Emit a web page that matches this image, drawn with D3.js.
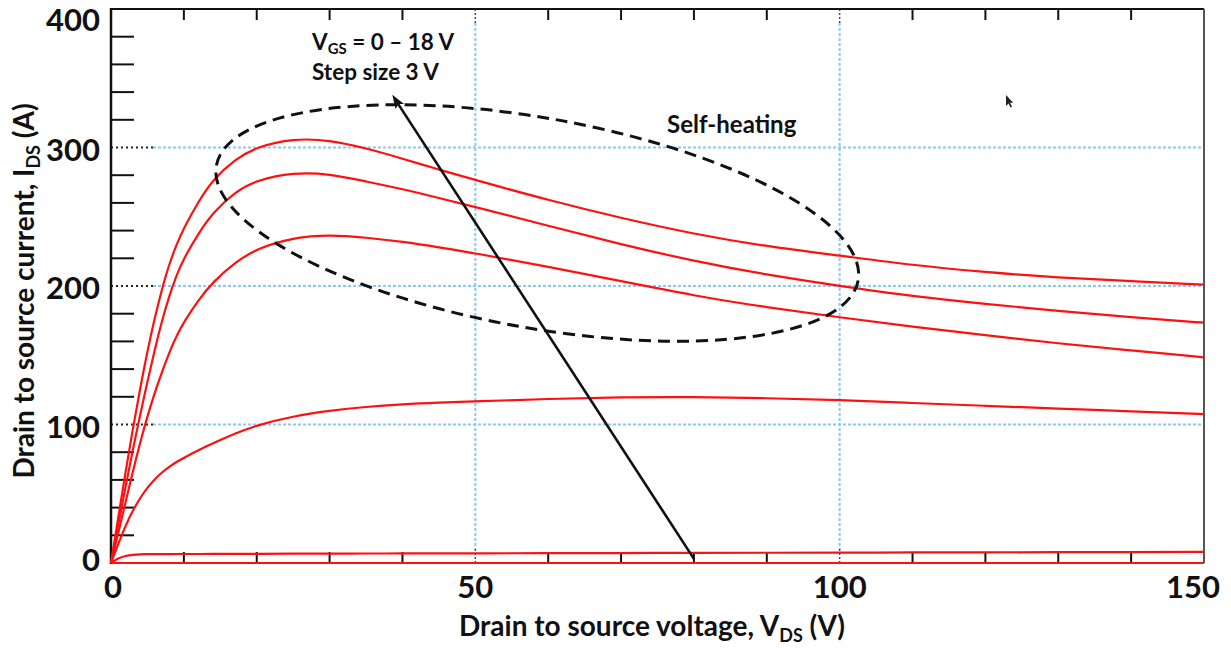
<!DOCTYPE html>
<html>
<head>
<meta charset="utf-8">
<script src="https://cdn.jsdelivr.net/npm/d3@7"></script>
<style>
  html, body { margin: 0; padding: 0; background: #fff; }
  svg { display: block; }
  text { font-family: Lato, "Open Sans", sans-serif; font-weight: 700; fill: #111; }
</style>
</head>
<body>
<svg id="chart" width="1231" height="649"></svg>
<script>
// Drain-source voltage sample points (V)
const vds = [0, 1, 2, 3, 4, 5, 6, 7, 8, 9, 10, 12, 14, 17, 20, 25, 30, 35, 40, 45,
             50, 60, 70, 80, 90, 100, 110, 120, 130, 140, 150];

// Drain current (A) for each gate voltage step
const ids18 = [0, 33, 66, 97, 126, 153, 177, 198, 216, 230, 242, 261, 277, 291.5, 300.5, 306.5, 305.5, 299.5, 292, 284,
               276.5, 262, 249, 237.5, 228.5, 222, 215, 210, 206, 203.5, 201];
const ids15 = [0, 28, 55, 82, 107, 131, 154, 175, 193, 208, 220, 238, 253, 268, 276.5, 282, 281, 275.5, 270, 263.5,
               257, 243.5, 230, 218, 208, 200, 192.5, 187, 182, 177.5, 173.5];
const ids12 = [0, 22, 44, 66, 87, 106, 123, 138, 152, 164, 174, 190, 203, 217, 227, 235, 237, 235, 232, 228,
               223.6, 214, 203.5, 193, 184.5, 177.4, 170.5, 164.5, 158.5, 153.5, 148.5];
const ids9  = [0, 14, 27, 38, 47, 54.5, 60.5, 65.5, 69.5, 73, 76, 81.5, 86.5, 93.5, 99.5, 106, 110, 112.8, 114.6, 115.8,
               116.7, 118.5, 119.7, 120, 119, 117.7, 115.5, 113.5, 111.5, 109.5, 107.5];
const ids6  = [0, 3.5, 5.2, 6, 6.3, 6.4, 6.4, 6.45, 6.45, 6.5, 6.5, 6.5, 6.55, 6.6, 6.6, 6.7, 6.8, 6.85, 6.9, 6.95,
               7, 7.1, 7.2, 7.3, 7.4, 7.5, 7.6, 7.7, 7.8, 7.9, 8];
const ids3  = vds.map(() => 0);
const ids0  = vds.map(() => 0);

const vgsSteps = [0, 3, 6, 9, 12, 15, 18];
const idsSeries = [ids0, ids3, ids6, ids9, ids12, ids15, ids18];

// Axis ticks
const xMajorTicks = [0, 50, 100, 150];
const xMinorTicks = [10, 20, 30, 40, 60, 70, 80, 90, 110, 120, 130, 140];
const yMajorTicks = [0, 100, 200, 300, 400];
const yMinorTicks = [20, 40, 60, 80, 120, 140, 160, 180, 220, 240, 260, 280, 320, 340, 360, 380];
const gridX = [50, 100];
const gridY = [100, 200, 300];

// Annotations (data coordinates)
const arrowFrom = [80, 3];
const arrowTo = [38.6, 338];
const ellipseCenter = [58.5, 245.5];
const selfHeatingLabel = "Self-heating";
const stepLabel = "Step size 3 V";

const svg = d3.select("#chart");
const x = d3.scaleLinear().domain([0, 150]).range([111, 1204]);
const y = d3.scaleLinear().domain([0, 400]).range([563, 9]);

svg.append("rect").attr("width", 1231).attr("height", 649).attr("fill", "#fff");

// Grid lines: light blue dotted, with a black dotted stub at the axis ends
const gridBlue = "#86c9f4";
const g = svg.append("g");
gridY.forEach(v => {
  g.append("line").attr("x1", x(0) + 42).attr("x2", x(150)).attr("y1", y(v)).attr("y2", y(v))
    .attr("stroke", gridBlue).attr("stroke-width", 2).attr("stroke-dasharray", "3,2");
  g.append("line").attr("x1", x(0)).attr("x2", x(0) + 42).attr("y1", y(v)).attr("y2", y(v))
    .attr("stroke", "#222").attr("stroke-width", 2).attr("stroke-dasharray", "2,3");
});
gridX.forEach(v => {
  g.append("line").attr("x1", x(v)).attr("x2", x(v)).attr("y1", y(400) + 14).attr("y2", y(0) - 14)
    .attr("stroke", gridBlue).attr("stroke-width", 2).attr("stroke-dasharray", "3,2");
  [[y(400), y(400) + 14], [y(0) - 14, y(0)]].forEach(([a, b]) => {
    g.append("line").attr("x1", x(v)).attr("x2", x(v)).attr("y1", a).attr("y2", b)
      .attr("stroke", "#446").attr("stroke-width", 1.5).attr("stroke-dasharray", "2,2");
  });
});

// Minor ticks (inward)
const t = svg.append("g").attr("stroke", "#111").attr("stroke-width", 2);
yMinorTicks.forEach(v => {
  t.append("line").attr("x1", x(0)).attr("x2", x(0) + 23).attr("y1", y(v)).attr("y2", y(v));
});
xMinorTicks.forEach(v => {
  t.append("line").attr("x1", x(v)).attr("x2", x(v)).attr("y1", y(400)).attr("y2", y(400) + 11);
  t.append("line").attr("x1", x(v)).attr("x2", x(v)).attr("y1", y(0)).attr("y2", y(0) - 11);
});

// Frame
svg.append("line").attr("x1", x(0)).attr("x2", x(150)).attr("y1", y(400)).attr("y2", y(400))
  .attr("stroke", "#111").attr("stroke-width", 2);
svg.append("line").attr("x1", x(150)).attr("x2", x(150)).attr("y1", y(400)).attr("y2", y(0))
  .attr("stroke", "#555").attr("stroke-width", 2);
svg.append("line").attr("x1", x(0)).attr("x2", x(150)).attr("y1", y(0)).attr("y2", y(0))
  .attr("stroke", "#111").attr("stroke-width", 2);
svg.append("line").attr("x1", x(0)).attr("x2", x(0)).attr("y1", y(400) - 1).attr("y2", y(0) + 1)
  .attr("stroke", "#111").attr("stroke-width", 2.5);

// Output characteristic curves
const line = d3.line()
  .x((d, i) => x(vds[i]))
  .y(d => y(d))
  .curve(d3.curveBasis);

svg.append("g").selectAll("path")
  .data(idsSeries)
  .join("path")
  .attr("d", d => line(d))
  .attr("fill", "none")
  .attr("stroke", "#ff1010")
  .attr("stroke-width", 2.2);

// Self-heating region (dashed ellipse)
const [ecx, ecy] = [x(ellipseCenter[0]), y(ellipseCenter[1])];
svg.append("ellipse")
  .attr("cx", 0).attr("cy", 0).attr("rx", 326).attr("ry", 105)
  .attr("transform", `translate(${ecx},${ecy}) rotate(10.15)`)
  .attr("fill", "none").attr("stroke", "#111").attr("stroke-width", 3)
  .attr("stroke-dasharray", "12,7");

// Gate-voltage arrow
const ax0 = x(arrowFrom[0]), ay0 = y(arrowFrom[1]);
const ax1 = x(arrowTo[0]), ay1 = y(arrowTo[1]);
const ang = Math.atan2(ay1 - ay0, ax1 - ax0);
const headLen = 14, headW = 5;
const bx = ax1 - headLen * Math.cos(ang), by = ay1 - headLen * Math.sin(ang);
svg.append("line").attr("x1", ax0).attr("y1", ay0).attr("x2", bx + 3 * Math.cos(ang)).attr("y2", by + 3 * Math.sin(ang))
  .attr("stroke", "#111").attr("stroke-width", 2.6);
const px = -Math.sin(ang), py = Math.cos(ang);
svg.append("path")
  .attr("d", `M${ax1},${ay1} L${bx + headW * px},${by + headW * py} L${bx + 3 * Math.cos(ang)},${by + 3 * Math.sin(ang)} L${bx - headW * px},${by - headW * py} Z`)
  .attr("fill", "#111");

// Annotation text
const ann = svg.append("text").attr("x", 312).attr("y", 50).style("font-size", "22.5px");
ann.append("tspan").text("V");
ann.append("tspan").text("GS").style("font-size", "15px").attr("dy", 4);
ann.append("tspan").text(" = 0 – 18 V").attr("dy", -4);
svg.append("text").attr("x", 312).attr("y", 80).style("font-size", "22.5px").text(stepLabel);
svg.append("text").attr("x", 667).attr("y", 133).style("font-size", "24px").text(selfHeatingLabel);

// Tick labels
svg.append("g").selectAll("text").data(yMajorTicks).join("text")
  .attr("x", 100)
  .attr("y", v => Math.min(Math.max(y(v) + 2, 20), 560))
  .attr("dy", "0.36em")
  .attr("text-anchor", "end")
  .style("font-size", "31px")
  .text(v => v);
svg.append("g").selectAll("text").data(xMajorTicks).join("text")
  .attr("x", v => Math.min(Math.max(x(v), 113), 1193))
  .attr("y", 598)
  .attr("text-anchor", "middle")
  .style("font-size", "31px")
  .text(v => v);

// Axis titles
const xt = svg.append("text").attr("x", 652).attr("y", 636).attr("text-anchor", "middle").style("font-size", "28px");
xt.append("tspan").text("Drain to source voltage, V");
xt.append("tspan").text("DS").style("font-size", "18px").attr("dy", 6);
xt.append("tspan").text(" (V)").attr("dy", -6);

const yt = svg.append("text").attr("transform", "translate(34,291) rotate(-90)").attr("text-anchor", "middle").style("font-size", "28px");
yt.append("tspan").text("Drain to source current, I");
yt.append("tspan").text("DS").style("font-size", "18px").attr("dy", 6);
yt.append("tspan").text(" (A)").attr("dy", -6);

// Mouse pointer
const defs = svg.append("defs");
defs.append("filter").attr("id", "soft").append("feGaussianBlur").attr("stdDeviation", 0.7);
svg.append("path")
  .attr("d", "M1006,95 L1006,106 L1008.5,103.5 L1010.5,107.5 L1012,106.8 L1010,102.8 L1013.2,102.8 Z")
  .attr("fill", "#222").attr("filter", "url(#soft)");
</script>
</body>
</html>
